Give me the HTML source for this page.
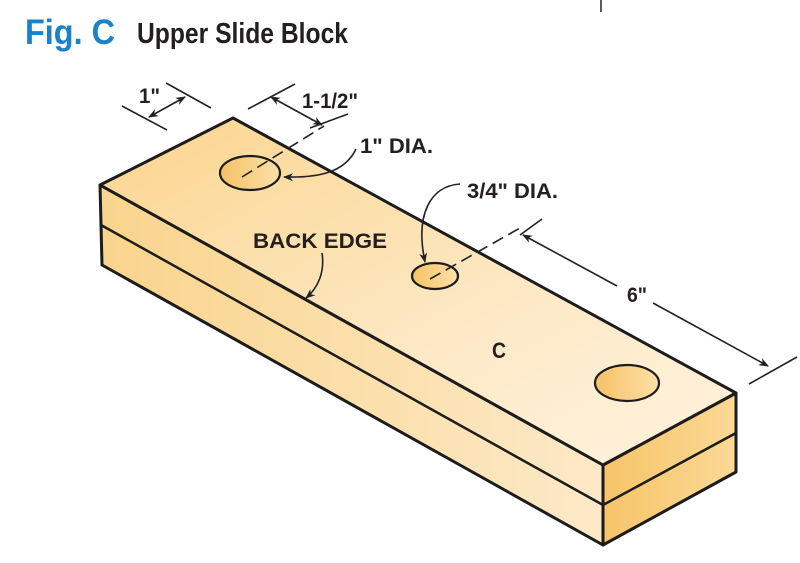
<!DOCTYPE html>
<html><head><meta charset="utf-8"><style>
html,body{margin:0;padding:0;background:#fff;}
svg{display:block;font-family:"Liberation Sans",Arial,sans-serif;font-weight:bold;}
</style></head><body>
<svg width="800" height="563" viewBox="0 0 800 563" xmlns="http://www.w3.org/2000/svg">
<defs>
<linearGradient id="top" x1="0" y1="0" x2="1" y2="1">
<stop offset="0" stop-color="#fbd58e"/><stop offset="0.6" stop-color="#fde9c6"/><stop offset="1" stop-color="#fef2de"/></linearGradient>
<linearGradient id="front" x1="0" y1="0" x2="1" y2="0">
<stop offset="0" stop-color="#f9d48c"/><stop offset="1" stop-color="#fde9c8"/></linearGradient>
<linearGradient id="end" x1="0" y1="0" x2="1" y2="0">
<stop offset="0" stop-color="#f6c46a"/><stop offset="1" stop-color="#fbd995"/></linearGradient>
<linearGradient id="hole" x1="0" y1="0" x2="1" y2="0">
<stop offset="0" stop-color="#f5c266"/><stop offset="1" stop-color="#fde0a8"/></linearGradient>
<marker id="ar" viewBox="0 0 10 10" refX="9" refY="5" markerWidth="10" markerHeight="10" orient="auto-start-reverse" markerUnits="userSpaceOnUse">
<path d="M0,1 L10,5 L0,9 L3,5 Z" fill="#222"/></marker>
</defs>
<line x1="601" y1="0" x2="601" y2="12" stroke="#222" stroke-width="1.5"/>
<text x="25" y="44" font-size="35" fill="#1a82c8" textLength="90" lengthAdjust="spacingAndGlyphs">Fig. C</text>
<text x="137" y="43" font-size="29" fill="#231f20" textLength="211" lengthAdjust="spacingAndGlyphs">Upper Slide Block</text>

<g stroke="#1c1c1c" stroke-width="3" stroke-linejoin="round">
<polygon points="100,185 603,465 603,545 102,265" fill="url(#front)"/>
<polygon points="603,465 736,393 736,472 603,545" fill="url(#end)"/>
<polygon points="100,185 233,118 736,393 603,465" fill="url(#top)"/>
</g>
<g stroke="#1c1c1c" stroke-width="2.5" fill="none">
<line x1="101" y1="225" x2="603" y2="505"/>
<line x1="603" y1="505" x2="736" y2="433"/>
</g>
<g stroke="#1c1c1c" stroke-width="2.2">
<ellipse cx="250" cy="173" rx="30" ry="17" fill="url(#hole)"/>
<ellipse cx="435" cy="276" rx="23" ry="13" fill="url(#hole)"/>
<ellipse cx="627" cy="383" rx="32" ry="18" fill="url(#hole)"/>
</g>
<g stroke="#222" stroke-width="1.6" fill="none">
<line x1="122" y1="106" x2="167" y2="130"/>
<line x1="166" y1="83" x2="211" y2="108"/>
<line x1="149" y1="117" x2="185" y2="97" marker-start="url(#ar)" marker-end="url(#ar)"/>
<line x1="248" y1="109" x2="295" y2="84"/>
<line x1="310" y1="128" x2="348" y2="114"/>
<line x1="271" y1="97" x2="322" y2="125" marker-start="url(#ar)" marker-end="url(#ar)"/>
<line x1="242" y1="177" x2="324" y2="126" stroke-dasharray="12,6"/>
<path d="M356,149 C345,172 320,178 284,177" marker-end="url(#ar)"/>
<line x1="430" y1="279" x2="520" y2="228" stroke-dasharray="12,6"/>
<line x1="520" y1="235" x2="542" y2="219"/>
<path d="M460,184 C430,186 415,215 425,262" marker-end="url(#ar)"/>
<line x1="523" y1="235" x2="617" y2="286" marker-start="url(#ar)"/>
<line x1="653" y1="303" x2="768" y2="366" marker-end="url(#ar)"/>
<line x1="749" y1="384" x2="797" y2="357"/>
<path d="M322,253 C325,272 318,288 306,298" marker-end="url(#ar)"/>
</g>
<g fill="#231f20" font-size="21">
<text x="139" y="103" textLength="21" lengthAdjust="spacingAndGlyphs">1"</text>
<text x="302" y="108" textLength="56" lengthAdjust="spacingAndGlyphs">1-1/2"</text>
<text x="360" y="153" textLength="73" lengthAdjust="spacingAndGlyphs">1"  DIA.</text>
<text x="467" y="198" textLength="91" lengthAdjust="spacingAndGlyphs">3/4"  DIA.</text>
<text x="253" y="248" textLength="134" lengthAdjust="spacingAndGlyphs">BACK EDGE</text>
<text x="627" y="302" textLength="20" lengthAdjust="spacingAndGlyphs">6"</text>
<text x="492" y="358" font-size="22" textLength="14" lengthAdjust="spacingAndGlyphs">C</text>
</g>
</svg>
</body></html>
